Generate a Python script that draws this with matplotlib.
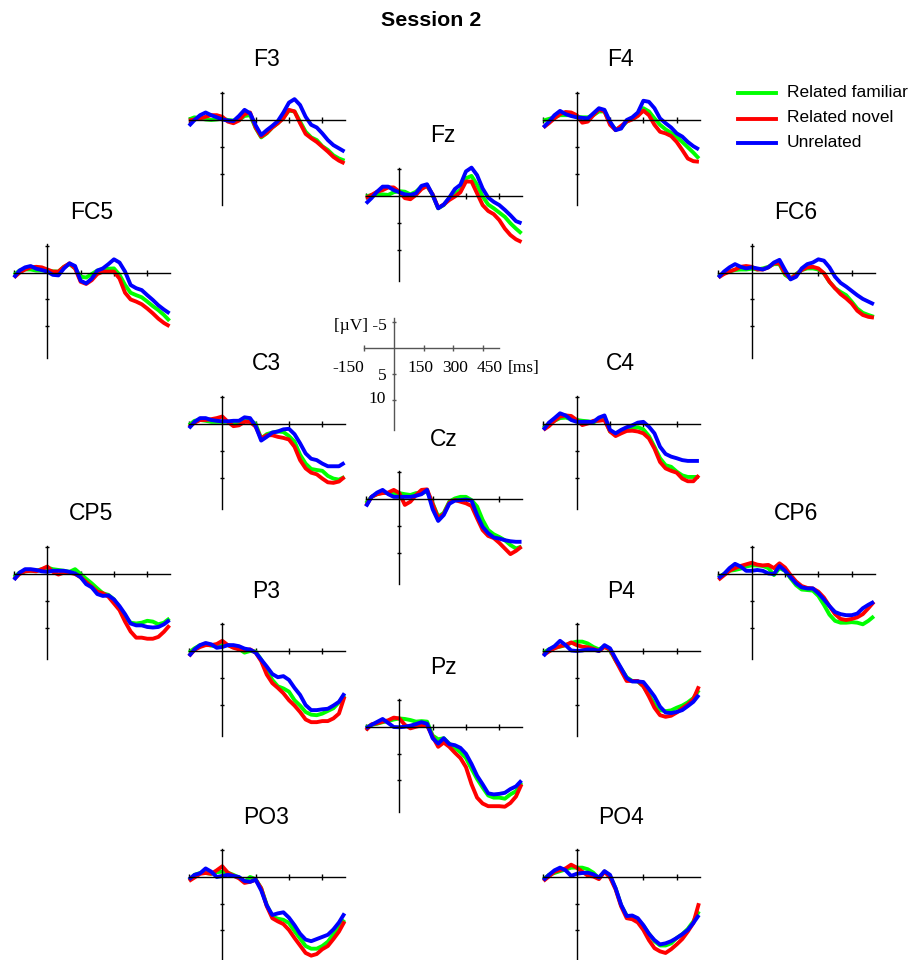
#
# Grand-average ERPs, session 2, 15 electrodes laid out on the scalp
# plus a scale panel in the middle.
#

import matplotlib
matplotlib.use("Agg")
import matplotlib.pyplot as plt
from matplotlib.lines import Line2D

FIG_W = 911
FIG_H = 960

FAMILIAR_COLOR = "#00FF00"
NOVEL_COLOR = "#FF0000"
UNRELATED_COLOR = "#0000FF"
AXIS_COLOR = "#000000"
SCALE_COLOR = "#555555"

SANS = ["Liberation Sans", "DejaVu Sans"]
SERIF = ["Liberation Serif", "DejaVu Serif"]

# sample times (ms)
TIMES = [-150, -125, -100, -75, -50, -25, 0, 25, 50, 75, 100, 125, 150, 175, 200,
         225, 250, 275, 300, 325, 350, 375, 400, 425, 450, 475, 500, 525, 550]

# amplitudes in microvolts (negative is plotted up)
F3_FAM = [-0.1, -0.5, -0.3, -0.1, 0, -0.1, -0.25, 0, 0.1, 0, -0.75, -0.9, 1.5, 3.25, 2.5, 1.4, 0.6, -0.5, -1.75, -1.6, 0.3, 2.2, 3.25, 3.75, 4.9, 5.6, 6.6, 7.2, 7.6]
F3_NOV = [0.1, -0.1, -0.3, -0.6, -0.9, -0.9, -0.6, 0.3, 0.6, 0.1, -1.1, -1.4, 1.4, 3.1, 2.4, 1.4, 0.6, -0.3, -1.9, -1.6, 0.6, 2.6, 3.4, 4.1, 5.0, 5.9, 6.9, 7.6, 8.1]
F3_UNR = [1.1, 0, -0.9, -1.4, -0.9, -0.5, -0.1, 0.1, 0.2, -0.75, -1.9, -1.25, 1.0, 2.8, 1.9, 1.1, 0.2, -1.4, -3.25, -3.9, -2.8, -0.6, 0.9, 1.4, 2.5, 3.75, 4.7, 5.3, 5.9]

FZ_FAM = [0.1, -0.2, -0.3, -0.3, -0.2, -0.7, -0.9, -0.8, -0.3, -0.8, -1.75, -1.9, -0.2, 2.3, 1.7, 0.4, -0.5, -1.1, -3.3, -3.75, -2.1, 0.1, 1.6, 2.3, 3.1, 3.9, 5.1, 6.1, 7.0]
FZ_NOV = [0.4, -0.2, -0.8, -1.1, -1.6, -1.6, -0.8, 0.4, 0.6, -0.2, -1.3, -1.9, -0.3, 2.2, 1.6, 0.75, 0.1, -0.7, -2.7, -2.7, -0.5, 1.7, 2.8, 3.4, 4.5, 6.1, 7.3, 8.1, 8.6]
FZ_UNR = [1.4, 0.4, -0.8, -1.75, -1.75, -1.1, -0.7, -0.3, -0.2, -0.5, -1.9, -2.2, -0.2, 2.3, 1.6, 0.3, -1.3, -2.1, -4.6, -5.3, -3.9, -1.4, 0.3, 1.1, 1.7, 2.6, 3.6, 4.7, 5.1]

F4_FAM = [0.1, -0.2, -0.5, -0.9, -0.9, -0.9, -0.6, -0.5, -0.5, -0.9, -1.6, -1.6, 0.6, 1.75, 1.4, 0.3, -0.3, -0.9, -2.2, -1.6, -0.3, 0.9, 1.75, 2.4, 3.1, 4.1, 5.1, 6.1, 7.2]
F4_NOV = [1.4, 0.6, -0.3, -1.1, -1.5, -1.4, -0.9, 0.5, 0.3, -0.9, -2.0, -1.6, 0.9, 1.9, 1.1, 0.3, -0.1, -0.75, -1.75, -0.9, 0.9, 2.2, 2.5, 3.0, 4.1, 5.6, 7.2, 7.7, 7.8]
F4_UNR = [1.4, 0.3, -0.9, -1.7, -1.1, -0.75, -0.5, -0.4, -0.3, -1.25, -2.2, -1.9, 0.3, 1.9, 1.6, 0, -0.5, -1.4, -3.6, -3.4, -2.2, -0.3, 0.6, 1.4, 2.5, 3.1, 4.1, 4.9, 5.5]

FC5_FAM = [0.4, -0.4, -0.6, -0.6, -0.4, -0.4, -0.4, -0.25, -0.2, -1.1, -1.6, -0.8, 0.75, 0.9, 0.25, -0.4, -0.5, -0.75, -0.8, 0.4, 2.3, 3.75, 4.2, 4.6, 5.4, 6.25, 7.0, 7.9, 9.0]
FC5_NOV = [0.9, 0, -0.6, -1.0, -1.1, -1.0, -0.6, -0.2, -0.2, -1.1, -1.75, -0.8, 1.7, 2.1, 1.4, 0.25, -0.2, -0.2, -0.2, 1.1, 3.75, 5.0, 5.4, 5.9, 6.7, 7.6, 8.6, 9.4, 10.0]
FC5_UNR = [0.9, -0.4, -1.0, -1.25, -0.75, -0.5, -0.2, 0.4, 0.5, -0.8, -1.75, -1.25, 1.5, 2.0, 1.1, -0.4, -0.8, -1.6, -2.5, -1.9, -0.2, 2.3, 2.9, 3.25, 4.2, 5.1, 6.1, 6.9, 7.6]

FC6_FAM = [0.75, 0.1, -0.25, -0.5, -0.6, -0.6, -0.75, -0.6, -0.8, -1.1, -1.6, -1.6, 0.4, 1.1, 0.25, -0.5, -0.8, -0.8, -0.6, 0.1, 1.7, 2.9, 3.6, 4.2, 5.4, 6.7, 7.5, 7.9, 8.25]
FC6_NOV = [0.9, 0.25, -0.2, -0.6, -1.1, -1.25, -1.1, -0.6, -0.6, -1.0, -1.75, -1.75, 0.1, 1.1, 0.4, -0.5, -1.0, -1.1, -0.8, 0.1, 1.7, 2.9, 4.0, 4.8, 5.75, 7.1, 7.9, 8.25, 8.4]
FC6_UNR = [0.9, -0.2, -1.0, -1.6, -1.1, -0.8, -1.0, -0.8, -0.6, -1.0, -1.9, -2.4, -0.5, 1.25, 0.75, -0.8, -1.6, -1.9, -2.5, -2.25, -1.0, 0.75, 1.9, 2.6, 3.4, 4.2, 4.9, 5.4, 5.9]

C3_FAM = [0.2, -0.6, -0.75, -0.6, -0.4, -0.4, -0.4, -0.4, -0.25, -0.4, -0.6, -0.75, 0, 2.7, 1.9, 1.6, 1.4, 1.5, 2.25, 3.3, 5.75, 7.4, 8.4, 8.6, 8.75, 9.7, 10.2, 10.4, 9.9]
C3_NOV = [0.6, -0.25, -0.75, -0.75, -0.9, -1.1, -1.4, -0.4, 0.4, 0.25, -0.4, -0.4, 0.5, 2.7, 2.1, 2.1, 2.4, 2.6, 2.9, 4.25, 6.75, 8.3, 9.1, 9.4, 10.2, 10.9, 11.0, 10.75, 9.9]
C3_UNR = [0.8, -0.4, -1.1, -1.1, -0.75, -0.6, -0.5, -0.5, -0.6, -0.6, -1.25, -1.1, 0.4, 3.1, 2.4, 1.6, 1.4, 1.0, 0.9, 1.9, 3.6, 5.5, 6.5, 6.75, 7.4, 7.9, 7.9, 7.9, 7.25]

CZ_FAM = [0.8, -0.4, -0.9, -1.2, -1.1, -1.1, -1.1, -0.9, -0.75, -1.1, -1.1, -1.4, 0.8, 3.3, 2.6, 0.5, -0.1, -0.4, -0.4, 0.2, 1.4, 3.9, 5.8, 6.6, 7.1, 7.7, 8.6, 9.25, 8.9]
CZ_NOV = [1.3, -0.4, -0.9, -1.1, -1.2, -1.7, -1.1, 1.1, 0.5, -0.75, -1.7, -1.8, 0.9, 3.6, 2.8, 0.7, 0.2, 0.5, 0.8, 1.3, 3.6, 5.8, 6.9, 7.3, 8.2, 9.25, 10.3, 9.7, 8.9]
CZ_UNR = [1.4, -0.4, -1.2, -1.7, -0.9, -0.4, -0.4, -0.4, -0.4, -0.6, -0.9, -1.7, 1.9, 4.1, 3.0, 0.9, 0.3, 0.2, 0.1, 0.3, 3.0, 5.2, 6.4, 7.2, 7.4, 7.7, 7.9, 8.0, 8.0]

C4_FAM = [0.8, -0.1, -0.6, -1.1, -1.2, -0.9, -0.75, -0.6, -0.5, -0.3, -0.75, -1.1, 1.4, 1.75, 1.4, 1.0, 0.8, 0.6, 1.0, 2.25, 4.25, 6.4, 7.7, 8.0, 8.9, 9.6, 9.9, 9.9, 9.9]
C4_NOV = [1.1, 0.4, -0.6, -1.4, -1.6, -1.5, -0.75, 0.2, -0.1, -0.6, -0.6, -0.75, 1.4, 2.25, 1.75, 1.3, 1.25, 1.4, 1.75, 2.7, 4.6, 7.1, 8.3, 8.75, 9.1, 10.2, 10.7, 10.7, 9.6]
C4_UNR = [1.1, -0.25, -1.1, -2.0, -1.6, -0.75, -0.4, -0.4, -0.4, -0.4, -1.2, -1.6, 1.1, 1.75, 1.1, 0.6, 0.25, -0.25, -0.4, 0.5, 1.75, 4.25, 5.6, 6.1, 6.4, 6.75, 6.9, 6.9, 6.9]

CP5_FAM = [0.6, -0.25, -0.5, -0.6, -0.6, -0.9, -1.2, -0.9, -0.75, -0.6, -0.4, -0.9, 0, 0.9, 1.75, 2.7, 3.6, 3.9, 4.75, 6.4, 8.0, 9.1, 9.25, 9.1, 8.75, 8.9, 9.4, 9.1, 8.3]
CP5_NOV = [1.0, 0, -0.5, -0.6, -0.5, -0.9, -1.4, -0.4, 0.1, -0.25, -0.25, 0, 0.6, 1.5, 2.4, 3.3, 3.6, 4.25, 5.5, 6.75, 8.9, 10.75, 11.9, 11.9, 12.1, 12.1, 11.75, 10.8, 9.6]
CP5_UNR = [1.1, -0.25, -0.9, -0.9, -0.75, -0.5, -0.4, -0.6, -0.6, -0.6, -0.4, -0.1, 0.6, 1.9, 2.5, 3.75, 4.1, 4.0, 4.75, 6.0, 7.5, 9.25, 9.6, 9.6, 9.9, 10.0, 9.9, 9.4, 8.6]

CP6_FAM = [0.6, 0, -0.6, -0.75, -1.0, -1.4, -1.6, -1.6, -1.5, -1.1, 0.2, -1.1, -0.6, 0.8, 2.1, 2.9, 3.0, 3.1, 4.1, 5.75, 7.6, 8.75, 9.1, 9.1, 9.0, 9.1, 9.4, 8.75, 7.9]
CP6_NOV = [1.1, 0.25, -0.6, -1.1, -1.5, -1.8, -2.1, -1.75, -1.6, -1.7, -1.1, -2.0, -1.2, 0.2, 1.4, 2.25, 2.6, 2.7, 3.3, 4.4, 6.0, 7.5, 8.4, 8.6, 8.4, 8.1, 7.5, 6.4, 5.2]
CP6_UNR = [0.8, 0, -1.1, -1.9, -1.4, -0.6, -0.6, -0.75, -0.6, -0.1, 0, -1.5, -0.6, 0.6, 1.75, 2.5, 2.7, 2.7, 3.6, 4.75, 6.0, 7.1, 7.5, 7.7, 7.7, 7.4, 6.4, 5.75, 5.2]

P3_FAM = [0.3, -0.5, -1.1, -1.25, -1.0, -0.9, -1.1, -1.1, -0.75, -0.4, 0.3, 0, 0.1, 1.6, 3.5, 5.4, 6.6, 7.0, 7.6, 9.2, 10.2, 11.4, 11.9, 12.0, 11.7, 11.2, 10.7, 9.6, 8.2]
P3_NOV = [0.95, -0.2, -0.75, -1.1, -1.1, -1.3, -1.9, -1.1, -0.6, -0.3, -0.1, -0.3, 0.3, 1.9, 4.4, 6.0, 6.9, 7.9, 9.2, 10.2, 11.4, 12.8, 13.3, 13.3, 13.1, 13.1, 12.6, 11.7, 8.5]
P3_UNR = [0.95, -0.3, -1.1, -1.5, -1.25, -0.6, -0.75, -1.1, -1.1, -0.9, -0.45, -0.25, 0.3, 1.6, 2.9, 4.3, 4.9, 4.7, 5.4, 6.9, 8.2, 10.1, 11.05, 11.05, 10.9, 10.8, 10.2, 9.5, 7.9]

PZ_FAM = [0.1, -0.4, -0.6, -0.9, -1.1, -1.4, -1.6, -1.5, -1.3, -1.0, -1.1, -1.0, 1.6, 2.3, 2.1, 3.1, 3.9, 4.7, 5.8, 7.8, 9.7, 11.3, 12.8, 13.2, 13.2, 13.4, 12.6, 12.0, 10.4]
PZ_NOV = [0.6, -0.5, -0.7, -1.0, -1.25, -1.75, -1.6, -0.4, 0.25, -0.05, -0.3, -0.25, 1.8, 3.7, 2.9, 3.7, 4.8, 5.8, 7.5, 10.7, 13.2, 14.3, 14.8, 14.8, 14.8, 14.9, 14.2, 13.0, 10.7]
PZ_UNR = [0.25, -0.4, -0.95, -1.5, -0.75, 0, 0.05, -0.05, -0.25, -0.55, -0.9, -0.6, 2.1, 3.1, 2.1, 3.2, 3.4, 3.9, 5.0, 6.9, 9.1, 10.7, 12.4, 12.6, 12.5, 12.3, 11.6, 11.1, 10.0]

P4_FAM = [0.3, -0.3, -0.6, -0.8, -1.1, -1.5, -1.75, -1.75, -1.4, -0.75, -0.3, -0.9, -0.1, 1.75, 3.3, 4.9, 5.6, 5.7, 6.6, 8.2, 9.9, 11.05, 11.25, 11.1, 10.6, 10.2, 9.6, 8.8, 7.3]
P4_NOV = [0.75, 0.1, -0.5, -0.9, -1.1, -1.6, -1.1, -0.8, -0.7, -0.4, 0, -0.75, -0.3, 1.75, 3.7, 5.6, 5.6, 5.6, 6.6, 8.5, 10.6, 12.0, 12.3, 12.1, 11.5, 10.7, 10.0, 9.0, 6.6]
P4_UNR = [0.95, -0.3, -0.9, -1.9, -1.1, -0.1, 0, -0.1, -0.3, -0.25, 0, -1.1, -0.5, 1.4, 3.2, 5.05, 5.7, 5.7, 5.8, 7.1, 8.5, 10.4, 11.5, 11.6, 11.4, 11.05, 10.3, 9.5, 8.2]

PO3_FAM = [0.6, -0.4, -0.75, -0.75, -0.6, -0.9, -1.0, -0.8, -0.4, 0.1, 0.9, 0, 0.4, 2.1, 5.2, 7.4, 7.8, 8.0, 8.6, 10.1, 11.5, 12.9, 13.4, 13.4, 12.9, 12.1, 10.7, 9.3, 8.0]
PO3_NOV = [0.75, 0.1, -0.6, -0.75, -0.6, -1.25, -2.0, -0.8, -0.25, 0.25, 1.1, 0.9, 0.5, 2.1, 5.45, 7.7, 8.3, 8.8, 9.9, 11.4, 12.8, 14.2, 14.7, 14.4, 13.5, 12.9, 11.6, 10.2, 8.3]
PO3_UNR = [0.45, -0.4, -0.7, -1.6, -1.0, 0, -0.2, -0.4, -0.2, 0, 0.75, 0.9, 0.5, 2.5, 5.3, 7.1, 6.8, 6.6, 7.6, 9.0, 10.6, 11.7, 12.0, 11.6, 11.2, 10.8, 9.8, 8.5, 6.8]

PO4_FAM = [0.45, -0.4, -0.75, -1.1, -1.4, -1.75, -1.75, -1.75, -1.45, -0.8, 0.25, -1.0, -0.1, 2.1, 5.3, 7.2, 7.6, 8.0, 9.1, 10.6, 12.0, 12.8, 12.8, 12.4, 11.4, 10.7, 9.7, 8.3, 6.4]
PO4_NOV = [0.75, -0.1, -1.0, -1.3, -1.6, -2.3, -1.75, -1.0, -0.25, -0.1, 0.4, -1.0, 0.1, 2.3, 5.5, 7.7, 7.9, 8.5, 9.9, 11.8, 13.3, 13.9, 14.2, 13.5, 12.6, 11.6, 10.2, 8.6, 4.9]
PO4_UNR = [0.6, -0.4, -1.25, -1.75, -1.25, -0.2, -0.6, -0.75, -0.8, -0.5, 0.1, -1.1, -0.4, 2.1, 5.2, 7.3, 7.2, 7.7, 9.0, 10.6, 11.8, 12.6, 12.4, 12.0, 11.4, 10.7, 9.9, 8.6, 7.1]

CONDITIONS = ["Related familiar", "Related novel", "Unrelated"]
COLORS = [FAMILIAR_COLOR, NOVEL_COLOR, UNRELATED_COLOR]

# electrode name, where its axes cross (pixels from top left), traces
PANELS = [
    ("F3", 222.3, 120, (F3_FAM, F3_NOV, F3_UNR)),
    ("F4", 576.7, 120, (F4_FAM, F4_NOV, F4_UNR)),
    ("Fz", 399.3, 196, (FZ_FAM, FZ_NOV, FZ_UNR)),
    ("FC5", 47.3, 272.7, (FC5_FAM, FC5_NOV, FC5_UNR)),
    ("FC6", 751.7, 272.7, (FC6_FAM, FC6_NOV, FC6_UNR)),
    ("C3", 222.3, 424, (C3_FAM, C3_NOV, C3_UNR)),
    ("C4", 576.7, 424, (C4_FAM, C4_NOV, C4_UNR)),
    ("Cz", 399.3, 499, (CZ_FAM, CZ_NOV, CZ_UNR)),
    ("CP5", 47.3, 574, (CP5_FAM, CP5_NOV, CP5_UNR)),
    ("CP6", 751.7, 574, (CP6_FAM, CP6_NOV, CP6_UNR)),
    ("P3", 222.3, 651, (P3_FAM, P3_NOV, P3_UNR)),
    ("P4", 576.7, 651, (P4_FAM, P4_NOV, P4_UNR)),
    ("Pz", 399.3, 727, (PZ_FAM, PZ_NOV, PZ_UNR)),
    ("PO3", 222.3, 877, (PO3_FAM, PO3_NOV, PO3_UNR)),
    ("PO4", 576.7, 877, (PO4_FAM, PO4_NOV, PO4_UNR)),
]

PX_PER_MS = 0.2222
PX_PER_UV = 5.35
X_LIM = (-152, 553)
Y_LIM = (-5.3, 15.9)


def fx(x):
    return x / FIG_W


def fy(y):
    return 1 - y / FIG_H


def addCrossAxes(fig, ox, oy, xlim, ylim, pxPerMs, pxPerUv, color):
    left = ox + xlim[0] * pxPerMs
    top = oy + ylim[0] * pxPerUv
    w = (xlim[1] - xlim[0]) * pxPerMs
    h = (ylim[1] - ylim[0]) * pxPerUv
    ax = fig.add_axes([fx(left), fy(top + h), w / FIG_W, h / FIG_H])
    ax.set_xlim(xlim[0], xlim[1])
    ax.set_ylim(ylim[1], ylim[0])
    ax.patch.set_visible(False)
    ax.spines["top"].set_visible(False)
    ax.spines["right"].set_visible(False)
    ax.spines["left"].set_position(("data", 0))
    ax.spines["bottom"].set_position(("data", 0))
    for s in ("left", "bottom"):
        ax.spines[s].set_color(color)
        ax.spines[s].set_linewidth(1.0)
    ax.set_xticks([-150, 150, 300, 450])
    ax.set_yticks([-5, 5, 10])
    ax.set_xticklabels([])
    ax.set_yticklabels([])
    ax.tick_params(axis="x", direction="inout", length=5, width=1.0, color=color)
    ax.tick_params(axis="y", direction="inout", length=3, width=1.0, color=color)
    return ax


def main():
    fig = plt.figure(figsize=(FIG_W / 100, FIG_H / 100), dpi=100)

    fig.text(fx(431), fy(20), "Session 2", ha="center", va="center",
             fontsize=15.4, fontweight="bold", family=SANS)

    for name, ox, oy, traces in PANELS:
        ax = addCrossAxes(fig, ox, oy, X_LIM, Y_LIM, PX_PER_MS, PX_PER_UV, AXIS_COLOR)
        for values, color in zip(traces, COLORS):
            ax.plot(TIMES, values, color=color, lw=2.8, clip_on=False,
                    solid_joinstyle="round", solid_capstyle="butt")
        fig.text(fx(ox + 44), fy(oy - 60), name, ha="center", va="center",
                 fontsize=16.5, family=SANS)

    # scale panel
    sx, sy = 394, 348.3
    addCrossAxes(fig, sx, sy, (-150, 530), (-5.8, 15.7), 0.198, 5.2, SCALE_COLOR)
    scale_font = dict(fontsize=12.5, family=SERIF, va="center")
    fig.text(fx(387), fy(326.5), "[\u00b5V] -5", ha="right", **scale_font)
    fig.text(fx(348.5), fy(368), "-150", ha="center", **scale_font)
    fig.text(fx(420.5), fy(368), "150", ha="center", **scale_font)
    fig.text(fx(455), fy(368), "300", ha="center", **scale_font)
    fig.text(fx(490), fy(368), "450", ha="center", **scale_font)
    fig.text(fx(523.5), fy(368), "[ms]", ha="center", **scale_font)
    fig.text(fx(386.5), fy(376), "5", ha="right", **scale_font)
    fig.text(fx(386), fy(399), "10", ha="right", **scale_font)

    # legend
    for i, (label, color) in enumerate(zip(CONDITIONS, COLORS)):
        ly = [93.3, 119, 143.3][i]
        fig.add_artist(Line2D([fx(738), fx(775.7)], [fy(ly), fy(ly)],
                              color=color, lw=2.8, transform=fig.transFigure))
        fig.text(fx(787), fy(ly - 1), label, ha="left", va="center",
                 fontsize=12.5, family=SANS)

    fig.savefig("out.png", dpi=100)


if __name__ == "__main__":
    main()
